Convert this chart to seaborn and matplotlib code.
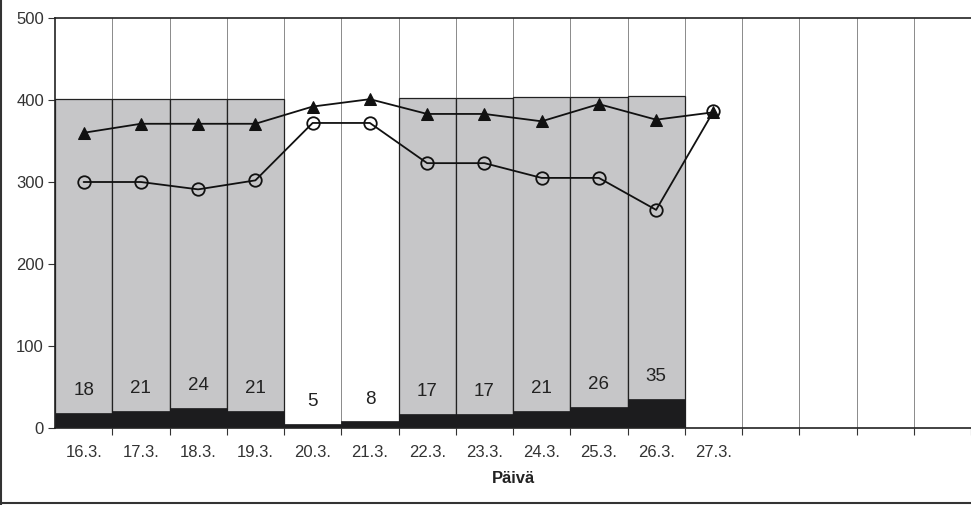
import numpy as np
import pandas as pd
import matplotlib
matplotlib.use("Agg")
import matplotlib.pyplot as plt
from matplotlib.lines import Line2D
import seaborn as sns

# ---- data ----
days = ["16.3.", "17.3.", "18.3.", "19.3.", "20.3.", "21.3.", "22.3.",
        "23.3.", "24.3.", "25.3.", "26.3.", "27.3."]
n_slots = 16  # 4 empty slots to the right
capacity = [401, 401, 401, 401, 0, 0, 403, 403, 404, 404, 405]   # light grey bars
dark_vals = [18, 21, 24, 21, 5, 8, 17, 17, 21, 26, 35]            # dark bars + labels
triangles = [360, 371, 371, 371, 392, 401, 383, 383, 374, 395, 376, 385]
circles = [300, 300, 291, 302, 372, 372, 323, 323, 305, 305, 266, 386]
yticks = [0, 100, 200, 300, 400, 500]

sns.set_theme(style="white")
plt.rcParams["font.family"] = ["Liberation Sans", "DejaVu Sans"]

fig = plt.figure(figsize=(9.71, 5.05), dpi=100)
ax = fig.add_axes([55 / 971, 1 - 428 / 505, 1 - 55 / 971, (428 - 18) / 505])

pos_bar = np.arange(len(capacity))
pos_line = np.arange(len(triangles))

# grey capacity bars
sns.barplot(x=pos_bar, y=capacity, native_scale=True, width=1.0,
            color="#c6c6c8", saturation=1, edgecolor="#222222", linewidth=0.9, ax=ax)
# dark bars
sns.barplot(x=pos_bar, y=dark_vals, native_scale=True, width=1.0,
            color="#1c1c1e", saturation=1, edgecolor="#1c1c1e", linewidth=0.5, ax=ax)

for x, v in zip(pos_bar, dark_vals):
    ax.text(x, v + 17, str(v), ha="center", va="bottom", fontsize=13.5,
            color="#222222", fontstretch="condensed")

# lines
sns.lineplot(x=pos_line, y=triangles, marker="^", markersize=9, color="#111111",
             markeredgecolor="#111111", linewidth=1.3, ax=ax, zorder=5)
sns.lineplot(x=pos_line, y=circles, marker="o", markersize=9, color="#111111",
             markerfacecolor="none", markeredgecolor="#111111", markeredgewidth=1.3,
             linewidth=1.3, ax=ax, zorder=6)

ax.set_xlim(-0.5, n_slots - 0.5)
ax.set_ylim(0, 500)

# vertical grid at slot boundaries
bounds = np.arange(-0.5, n_slots, 1.0)
for b in bounds[1:]:
    ax.axvline(b, color="#8a8a8a", linewidth=0.7, zorder=0)

ax.set_xticks(bounds[1:])
ax.set_xticklabels([])
ax.set_xticks(np.arange(len(days)), minor=True)
ax.set_xticklabels(days, minor=True, fontsize=12, color="#333333")
ax.tick_params(axis="x", which="major", length=5, width=0.8, color="#333333", direction="out", bottom=True)
ax.tick_params(axis="x", which="minor", length=0, pad=12)

ax.set_yticks(yticks)
ax.set_yticklabels([str(t) for t in yticks], fontsize=12, color="#333333")
ax.tick_params(axis="y", length=5, width=0.8, color="#333333", direction="out", left=True, pad=3)

ax.set_xlabel("Päivä", fontsize=12, fontweight="bold", color="#222222", labelpad=8)
ax.set_ylabel("")

for s in ["top", "left", "bottom"]:
    ax.spines[s].set_visible(True)
    ax.spines[s].set_color("#222222")
    ax.spines[s].set_linewidth(1.2)
ax.spines["right"].set_visible(False)
ax.grid(False)

# figure border lines (left and bottom)
fig.add_artist(Line2D([0.001, 0.001], [0, 1], transform=fig.transFigure, color="#333333", linewidth=1.5))
fig.add_artist(Line2D([0, 1], [0.004, 0.004], transform=fig.transFigure, color="#333333", linewidth=1.5))

fig.savefig("out.png", dpi=100)
